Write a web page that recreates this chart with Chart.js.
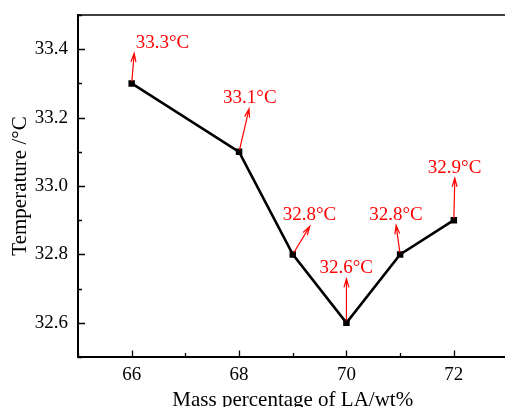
<!DOCTYPE html>
<html>
<head>
<meta charset="utf-8">
<script src="https://cdn.jsdelivr.net/npm/chart.js@4.4.1/dist/chart.umd.min.js"></script>
<style>
  html, body { margin: 0; padding: 0; background: #fff; overflow: hidden; width: 505px; height: 407px; }
  #wrap { position: absolute; left: 0; top: 0; width: 520px; height: 420px; }
</style>
</head>
<body>
<div id="wrap"><canvas id="c"></canvas></div>
<script>
// ---- data ----
const massPct = [66, 68, 69, 70, 71, 72];
const temperature = [33.3, 33.1, 32.8, 32.6, 32.8, 32.9];
const xTicks = [66, 68, 70, 72];
const yTicks = [32.6, 32.8, 33.0, 33.2, 33.4];
const xMinorTicks = [65, 67, 69, 71, 73];
const yMinorTicks = [32.5, 32.7, 32.9, 33.1, 33.3, 33.5];
const xTitle = 'Mass percentage of LA/wt%';
const yTitle = 'Temperature /°C';

// ---- annotation styling (pixel offsets relative to each point) ----
const arrowTip = [[2.5, -30], [10, -43], [17, -28], [0, -44], [-4, -29], [1, -42]];
const labelPos = [[4, -40], [-16, -54], [-10, -39], [-27, -55], [-31, -39], [-26, -52]];

const FONT = "'Liberation Serif', 'Times New Roman', serif";

const annotPlugin = {
  id: 'annot',
  afterDatasetsDraw(chart) {
    const ctx = chart.ctx;
    const xs = chart.scales.x, ys = chart.scales.y;
    ctx.save();
    ctx.strokeStyle = '#ff0000';
    ctx.fillStyle = '#ff0000';
    ctx.lineWidth = 1.2;
    ctx.font = '19px ' + FONT;
    ctx.textBaseline = 'middle';
    ctx.textAlign = 'left';
    for (let i = 0; i < massPct.length; i++) {
      const px = xs.getPixelForValue(massPct[i]);
      const py = ys.getPixelForValue(temperature[i]);
      const tx = px + arrowTip[i][0], ty = py + arrowTip[i][1];
      const ang = Math.atan2(ty - py, tx - px);
      const sx = px + Math.cos(ang) * 2, sy = py + Math.sin(ang) * 2;
      ctx.beginPath();
      ctx.moveTo(sx, sy);
      ctx.lineTo(tx, ty);
      const hl = 9, ha = 0.28;
      ctx.moveTo(tx - hl * Math.cos(ang - ha), ty - hl * Math.sin(ang - ha));
      ctx.lineTo(tx, ty);
      ctx.lineTo(tx - hl * Math.cos(ang + ha), ty - hl * Math.sin(ang + ha));
      ctx.stroke();
      ctx.fillText(temperature[i].toFixed(1) + '°C', px + labelPos[i][0], py + labelPos[i][1]);
    }
    ctx.restore();
  },
  afterDraw(chart) {
    const ctx = chart.ctx;
    const xs = chart.scales.x, ys = chart.scales.y;
    const a = chart.chartArea;
    ctx.save();
    ctx.strokeStyle = '#000';
    // top border
    ctx.lineWidth = 1.5;
    ctx.beginPath();
    ctx.moveTo(a.left, a.top);
    ctx.lineTo(a.right + 5, a.top);
    ctx.stroke();
    // inward ticks
    ctx.lineWidth = 1.3;
    ctx.beginPath();
    xTicks.forEach(v => { const x = Math.round(xs.getPixelForValue(v)) + 0.5; ctx.moveTo(x, a.bottom); ctx.lineTo(x, a.bottom - 6.5); });
    xMinorTicks.forEach(v => { const x = Math.round(xs.getPixelForValue(v)) + 0.5; ctx.moveTo(x, a.bottom); ctx.lineTo(x, a.bottom - 4); });
    yTicks.forEach(v => { const y = Math.round(ys.getPixelForValue(v)) + 0.5; ctx.moveTo(a.left, y); ctx.lineTo(a.left + 7, y); });
    yMinorTicks.forEach(v => { const y = Math.round(ys.getPixelForValue(v)) + 0.5; ctx.moveTo(a.left, y); ctx.lineTo(a.left + 4, y); });
    ctx.stroke();
    ctx.restore();
  }
};

new Chart(document.getElementById('c'), {
  type: 'line',
  data: {
    datasets: [{
      data: massPct.map((x, i) => ({ x: x, y: temperature[i] })),
      borderColor: '#000',
      backgroundColor: '#000',
      borderWidth: 2.6,
      pointStyle: 'rect',
      pointRadius: 4.6,
      pointBorderWidth: 0,
      tension: 0,
      fill: false
    }]
  },
  options: {
    responsive: true,
    maintainAspectRatio: false,
    devicePixelRatio: 1,
    animation: false,
    events: [],
    layout: { padding: { left: 0, top: 15, right: 12.5, bottom: 0 } },
    plugins: { legend: { display: false }, tooltip: { enabled: false } },
    scales: {
      x: {
        type: 'linear',
        min: 65, max: 73,
        afterBuildTicks: s => { s.ticks = xTicks.map(v => ({ value: v })); },
        afterFit: s => { s.height = 63; s.paddingLeft = 0; s.paddingRight = 0; s.paddingTop = 0; s.paddingBottom = 0; },
        grid: { display: true, drawOnChartArea: false, drawTicks: false },
        border: { display: true, color: '#000', width: 2 },
        ticks: { color: '#000', padding: 7, maxRotation: 0, font: { family: FONT, size: 19 }, callback: v => String(v) },
        title: { display: true, text: xTitle, color: '#000', font: { family: FONT, size: 21 }, padding: { top: 0, bottom: 7 } }
      },
      y: {
        type: 'linear',
        min: 32.5, max: 33.5,
        afterBuildTicks: s => { s.ticks = yTicks.map(v => ({ value: v })); },
        afterFit: s => { s.width = 78; s.paddingLeft = 0; s.paddingRight = 0; s.paddingTop = 0; s.paddingBottom = 0; },
        grid: { display: true, drawOnChartArea: false, drawTicks: false },
        border: { display: true, color: '#000', width: 2 },
        ticks: { color: '#000', padding: 10, font: { family: FONT, size: 19 }, callback: v => Number(v).toFixed(1) },
        title: { display: true, text: yTitle, color: '#000', font: { family: FONT, size: 21 }, padding: { top: 8, bottom: 0 } }
      }
    }
  },
  plugins: [annotPlugin]
});
</script>
</body>
</html>
